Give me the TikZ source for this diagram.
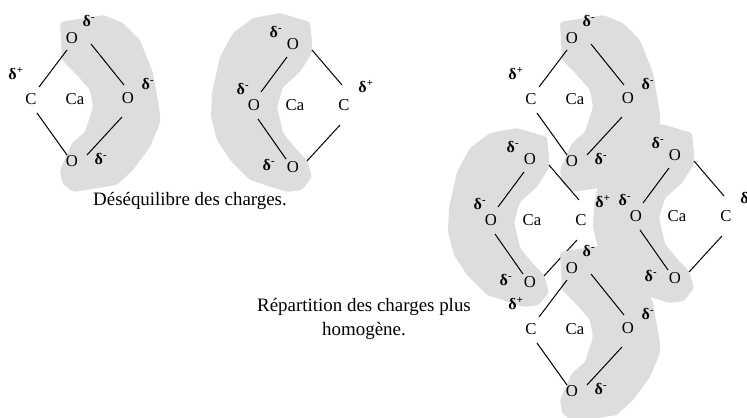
\documentclass[tikz,border=0pt]{standalone}
\usepackage{fontspec}
\setmainfont{Liberation Serif}
\usetikzlibrary{calc}
\definecolor{blobgray}{HTML}{DDDDDD}
\tikzset{
  atom/.style={inner sep=0pt,font=\fontsize{12.5}{14}\selectfont},
  chg/.style={inner sep=0pt,font=\fontsize{12}{13}\selectfont\bfseries},
  blob/.style={fill=blobgray,rounded corners=2pt},
  bond/.style={draw=black,line width=0.75pt},
  caption/.style={inner sep=0pt,align=center,font=\fontsize{14.2}{18}\selectfont}
}
\newcommand{\dminus}{δ\textsuperscript{-}}
\newcommand{\dplus}{δ\textsuperscript{+}}
% molecule opening to the left
\newcommand{\molA}[3]{%
\begin{scope}[shift={(#2,#3)}]
  \fill[blob] (60,22) -- (85,18) -- (103,15) -- (123,23) -- (140,40) -- (153,73) -- (160,113) -- (160,123) -- (150,147) -- (133,170) -- (117,185) -- (73,192) -- (62,183) -- (60,170) -- (72,143) -- (85,132) -- (93,107) -- (90,90) -- (77,75) -- (62,60) -- cycle;
  \node[atom] (#1ot) at (72,38) {O};
  \node[atom] (#1c) at (31,99) {C};
  \node[atom] (#1ca) at (75,99) {Ca};
  \node[atom] (#1or) at (128,98) {O};
  \node[atom] (#1ob) at (72,161) {O};
  \node[chg] (#1d1) at (89,21) {\dminus};
  \node[chg] (#1d2) at (16,74) {\dplus};
  \node[chg] (#1d3) at (148,84) {\dminus};
  \node[chg] (#1d4) at (101,159) {\dminus};
  \draw[bond] ($(#1ot)+(-5,12)$) -- ($(#1c)+(8,-12)$);
  \draw[bond] ($(#1ot)+(19,6)$) -- ($(#1or)+(-4,-13)$);
  \draw[bond] ($(#1c)+(6,14)$) -- ($(#1ob)+(-5,-6)$);
  \draw[bond] ($(#1ob)+(15,-6)$) -- ($(#1or)+(-6,19)$);
\end{scope}}
% molecule opening to the right
\newcommand{\molB}[3]{%
\begin{scope}[shift={(#2,#3)}]
  \fill[blob] (312,42) -- (310,22) -- (280,13) -- (253,18) -- (233,33) -- (220,57) -- (212,93) -- (211,117) -- (217,140) -- (230,160) -- (250,180) -- (287,192) -- (302,190) -- (312,177) -- (307,160) -- (297,150) -- (283,133) -- (277,107) -- (283,87) -- (300,72) -- (312,53) -- cycle;
  \node[atom] (#1ot) at (293,44) {O};
  \node[atom] (#1ol) at (254,105) {O};
  \node[atom] (#1ca) at (295,105) {Ca};
  \node[atom] (#1c) at (344,105) {C};
  \node[atom] (#1ob) at (293,167) {O};
  \node[chg] (#1d1) at (276,32) {\dminus};
  \node[chg] (#1d2) at (243,89) {\dminus};
  \node[chg] (#1d3) at (269,165) {\dminus};
  \node[chg] (#1d4) at (366,87) {\dplus};
  \draw[bond] ($(#1ot)+(-6,13)$) -- ($(#1ol)+(7,-13)$);
  \draw[bond] ($(#1ot)+(19,6)$) -- ($(#1c)+(-2,-20)$);
  \draw[bond] ($(#1c)+(-4,20)$) -- ($(#1ob)+(14,-6)$);
  \draw[bond] ($(#1ol)+(4,14)$) -- ($(#1ob)+(-7,-8)$);
\end{scope}}
\begin{document}
\begin{tikzpicture}[x=0.75pt,y=-0.75pt]
  \useasboundingbox (0,0) rectangle (747,418);
  \molA{a}{0}{0}
  \molB{b}{0}{0}
  \molA{c}{500}{0}
  \molB{d}{382}{111}
  \molB{e}{237}{115}
  \molA{f}{500}{230}
  \node[caption] (cap1) at (190,201) {Déséquilibre des charges.};
  \node[caption] (cap2) at (364,319) {Répartition des charges plus\\homogène.};
\end{tikzpicture}
\end{document}
